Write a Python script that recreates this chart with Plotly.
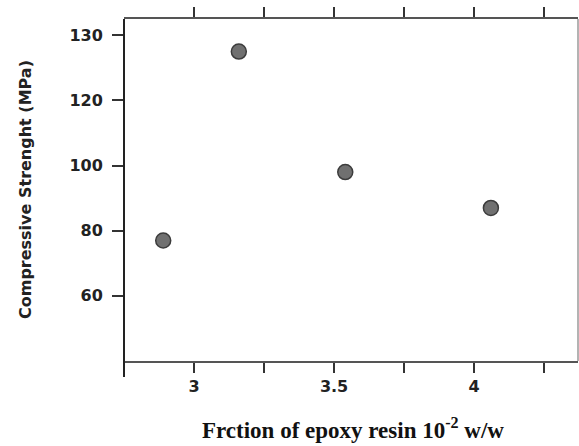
import plotly.graph_objects as go

# Epoxy resin fraction (10^-2 w/w) and measured compressive strength (MPa)
epoxy_fraction = [2.89, 3.16, 3.54, 4.06]
compressive_strength = [77, 135, 98, 87]

# Axis ticks and labels
x_tick_vals = [3, 3.25, 3.5, 3.75, 4, 4.25]
x_tick_text = ["3", "", "3.5", "", "4", ""]
y_tick_vals = [60, 80, 100, 120, 140]
y_tick_text = ["60", "80", "100", "120", "130"]


def bold(labels):
    return [f"<b>{t}</b>" if t else "" for t in labels]


tick_font = dict(family="DejaVu Sans", size=16, color="#222222")

fig = go.Figure()
fig.add_trace(go.Scatter(
    x=epoxy_fraction,
    y=compressive_strength,
    mode="markers",
    marker=dict(size=15, color="#707070", line=dict(color="#3c3c3c", width=1.5)),
    showlegend=False,
))

fig.update_layout(
    width=579,
    height=446,
    margin=dict(l=124, r=1, t=19, b=85),
    plot_bgcolor="white",
    paper_bgcolor="white",
    xaxis=dict(
        range=[2.75, 4.371],
        tickmode="array",
        tickvals=x_tick_vals,
        ticktext=bold(x_tick_text),
        ticks="outside",
        ticklen=10,
        tickwidth=2,
        tickcolor="#333333",
        showline=True,
        linecolor="#555555",
        linewidth=2,
        mirror="ticks",
        showgrid=False,
        zeroline=False,
        tickfont=tick_font,
    ),
    yaxis=dict(
        range=[40, 145],
        tickmode="array",
        tickvals=y_tick_vals,
        ticktext=bold(y_tick_text),
        ticks="outside",
        ticklen=11,
        tickwidth=2,
        tickcolor="#333333",
        ticklabelstandoff=6,
        showline=False,
        showgrid=False,
        zeroline=False,
        tickfont=tick_font,
    ),
    shapes=[
        # left axis line, running slightly past the bottom axis
        dict(type="line", xref="paper", yref="paper", x0=0, x1=0, y0=-0.047, y1=1,
             line=dict(color="#222222", width=2)),
        # light right frame edge
        dict(type="line", xref="paper", yref="paper", x0=1, x1=1, y0=0, y1=1,
             line=dict(color="#9a9a9a", width=1.5)),
    ],
    annotations=[
        dict(
            text="<b>Frction of epoxy resin 10<sup>-2</sup> w/w</b>",
            xref="paper", yref="paper", x=0.504, y=-0.247,
            xanchor="center", yanchor="bottom", showarrow=False,
            font=dict(family="Liberation Serif", size=23, color="#111111"),
        ),
        dict(
            text="<b>Compressive Strenght (MPa)</b>",
            xref="paper", yref="paper", x=-0.218, y=0.5,
            xanchor="center", yanchor="middle", textangle=-90, showarrow=False,
            font=dict(family="DejaVu Sans", size=16, color="#222222"),
        ),
    ],
)

fig.write_html("out.html")
